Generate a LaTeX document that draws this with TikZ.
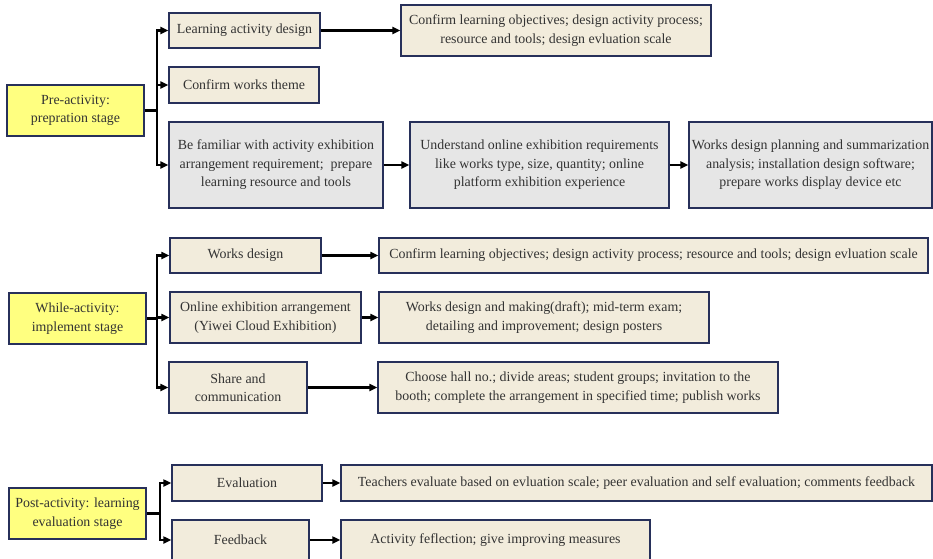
\documentclass[tikz,border=0pt]{standalone}
\usepackage{fontspec}
\setmainfont{Liberation Serif}
\usetikzlibrary{arrows.meta}
\definecolor{beige}{HTML}{F2ECDC}
\definecolor{stageyellow}{HTML}{FFFF80}
\definecolor{graybox}{HTML}{E6E6E6}
\definecolor{edgecol}{HTML}{27305A}
\definecolor{txt}{HTML}{333333}
\begin{document}
\begin{tikzpicture}[x=1pt,y=-1pt,
  box/.style={draw=edgecol, line width=1.3pt, fill=beige, text=txt, align=center, inner sep=0pt, font=\fontsize{13.9}{18.5}\selectfont},
  stage/.style={box, fill=stageyellow},
  greybox/.style={box, fill=graybox},
  link/.style={line width=2.2pt, -{Triangle[length=8pt,width=7pt]}},
  trunk/.style={line width=2.2pt}]
\useasboundingbox (0,0) rectangle (933,558);
\fill[white] (0,0) rectangle (933,558);

% ---------- Pre-activity ----------
\node[stage, minimum width=137pt, minimum height=51pt] (pre) at (75.5,110.5) {Pre-activity:\\prepration stage};
\node[box, minimum width=151pt, minimum height=35pt] (lad) at (244.5,30.5) {Learning activity design};
\node[box, minimum width=150pt, minimum height=36pt] (cwt) at (244,85) {Confirm works theme};
\node[greybox, minimum width=214pt, minimum height=86pt] (fam) at (276,165) {Be familiar with activity exhibition\\arrangement requirement;~ prepare\\learning resource and tools};
\node[box, minimum width=310pt, minimum height=51pt] (clo) at (556,30.5) {Confirm learning objectives; design activity process;\\resource and tools; design evluation scale};
\node[greybox, minimum width=259pt, minimum height=86pt] (und) at (539.5,165) {Understand online exhibition requirements\\like works type, size, quantity; online\\platform exhibition experience};
\node[greybox, minimum width=243pt, minimum height=86pt] (wdp) at (810.5,165) {Works design planning and summarization\\analysis; installation design software;\\prepare works display device etc};
\coordinate (j1) at (157,110.5);
\draw[trunk] (pre.east) -- (j1);
\draw[link] (j1) |- (lad.west);
\draw[link] (j1) |- (cwt.west);
\draw[link] (j1) |- (fam.west);
\draw[link] (lad.east) -- (clo.west);
\draw[link] (fam.east) -- (und.west);
\draw[link] (und.east) -- (wdp.west);

% ---------- While-activity ----------
\node[stage, minimum width=137pt, minimum height=51pt] (while) at (77.5,318.5) {While-activity:\\implement stage};
\node[box, minimum width=151pt, minimum height=35pt] (wd) at (245.5,255.5) {Works design};
\node[box, minimum width=191pt, minimum height=51pt] (oea) at (265.5,317.5) {Online exhibition arrangement\\(Yiwei Cloud Exhibition)};
\node[box, minimum width=138pt, minimum height=51pt] (sac) at (238,387.5) {Share and\\communication};
\node[box, minimum width=549pt, minimum height=35pt] (clo2) at (653.5,255.5) {Confirm learning objectives; design activity process; resource and tools; design evluation scale};
\node[box, minimum width=330pt, minimum height=51pt] (wdm) at (544,317.5) {Works design and making(draft); mid-term exam;\\detailing and improvement; design posters};
\node[box, minimum width=400pt, minimum height=51pt] (ch) at (578,387.5) {Choose hall no.; divide areas; student groups; invitation to the\\booth; complete the arrangement in specified time; publish works};
\coordinate (j2) at (157,318.5);
\draw[trunk] (while.east) -- (j2);
\draw[link] (j2) |- (wd.west);
\draw[link] (j2) |- (oea.west);
\draw[link] (j2) |- (sac.west);
\draw[link] (wd.east) -- (clo2.west);
\draw[link] (oea.east) -- (wdm.west);
\draw[link] (sac.east) -- (ch.west);

% ---------- Post-activity ----------
\node[stage, minimum width=137pt, minimum height=51pt] (post) at (77.5,513.5) {Post-activity: learning\\evaluation stage};
\node[box, minimum width=150pt, minimum height=36pt] (ev) at (247,483) {Evaluation};
\node[box, minimum width=137pt, minimum height=40pt] (fb) at (240.5,540) {Feedback};
\node[box, minimum width=591pt, minimum height=36pt] (teach) at (636.5,483) {Teachers evaluate based on evluation scale; peer evaluation and self evaluation; comments feedback};
\node[box, minimum width=309pt, minimum height=40pt] (act) at (495.5,540) {Activity feflection; give improving measures};
\coordinate (j3) at (160,513.5);
\draw[trunk] (post.east) -- (j3);
\draw[link] (j3) |- (ev.west);
\draw[link] (j3) |- (fb.west);
\draw[link] (ev.east) -- (teach.west);
\draw[link] (fb.east) -- (act.west);
\end{tikzpicture}
\end{document}
